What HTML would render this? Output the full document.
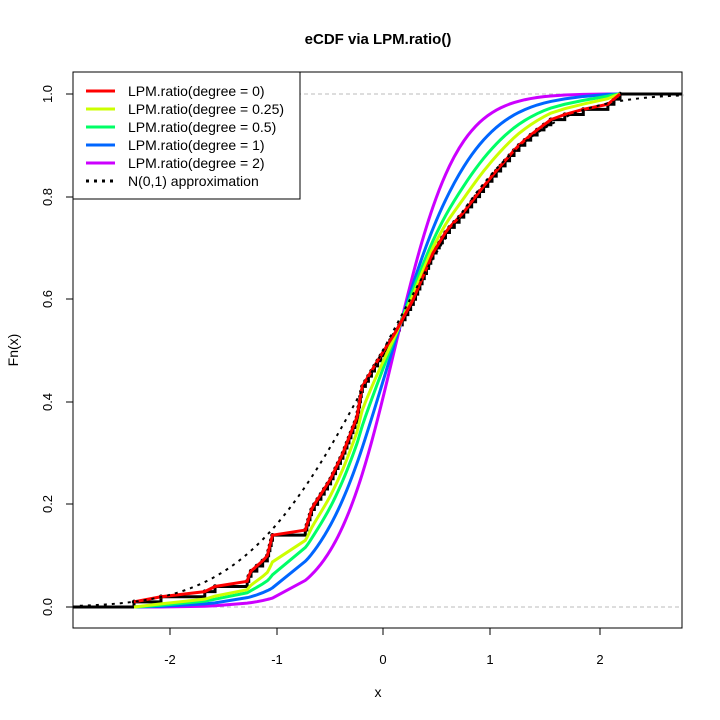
<!DOCTYPE html>
<html><head><meta charset="utf-8"><style>body{margin:0;background:#fff}svg{display:block;font-family:"Liberation Sans",Arial,sans-serif}</style></head>
<body><svg id="s" width="720" height="720" xmlns="http://www.w3.org/2000/svg">
<rect width="720" height="720" fill="#fff"/>
<text x="378" y="44" font-size="15" font-weight="bold" text-anchor="middle">eCDF via LPM.ratio()</text>
<text x="378" y="697" font-size="14" text-anchor="middle">x</text>
<text transform="translate(18,350) rotate(-90)" font-size="14" text-anchor="middle">Fn(x)</text>
<line x1="73" y1="94" x2="682" y2="94" stroke="#bbb" stroke-dasharray="4,3"/>
<line x1="73" y1="607" x2="682" y2="607" stroke="#bbb" stroke-dasharray="4,3"/>
<g id="g"></g>
<rect x="73" y="72" width="609" height="556" fill="none" stroke="#000"/>
<g stroke="#000">
<line x1="170" y1="628" x2="170" y2="635"/><line x1="277" y1="628" x2="277" y2="635"/><line x1="383" y1="628" x2="383" y2="635"/><line x1="490" y1="628" x2="490" y2="635"/><line x1="600" y1="628" x2="600" y2="635"/>
<line x1="66" y1="607" x2="73" y2="607"/><line x1="66" y1="504" x2="73" y2="504"/><line x1="66" y1="402" x2="73" y2="402"/><line x1="66" y1="299" x2="73" y2="299"/><line x1="66" y1="197" x2="73" y2="197"/><line x1="66" y1="94" x2="73" y2="94"/>
</g>
<g font-size="13" text-anchor="middle">
<text x="170" y="664">-2</text><text x="277" y="664">-1</text><text x="383" y="664">0</text><text x="490" y="664">1</text><text x="600" y="664">2</text>
<text transform="translate(52,607) rotate(-90)">0.0</text><text transform="translate(52,504) rotate(-90)">0.2</text><text transform="translate(52,402) rotate(-90)">0.4</text><text transform="translate(52,299) rotate(-90)">0.6</text><text transform="translate(52,197) rotate(-90)">0.8</text><text transform="translate(52,94) rotate(-90)">1.0</text>
</g>
<rect x="73" y="72" width="227" height="127" fill="#fff" stroke="#000"/>
<g stroke-width="3">
<line x1="86" y1="91" x2="115" y2="91" stroke="#ff0000"/>
<line x1="86" y1="109" x2="115" y2="109" stroke="#ccff00"/>
<line x1="86" y1="127" x2="115" y2="127" stroke="#00ff66"/>
<line x1="86" y1="145" x2="115" y2="145" stroke="#0066ff"/>
<line x1="86" y1="163" x2="115" y2="163" stroke="#cc00ff"/>
<line x1="86" y1="181" x2="115" y2="181" stroke="#000" stroke-dasharray="3,5"/>
</g>
<g font-size="14">
<text x="128" y="96">LPM.ratio(degree = 0)</text>
<text x="128" y="114">LPM.ratio(degree = 0.25)</text>
<text x="128" y="132">LPM.ratio(degree = 0.5)</text>
<text x="128" y="150">LPM.ratio(degree = 1)</text>
<text x="128" y="168">LPM.ratio(degree = 2)</text>
<text x="128" y="186">N(0,1) approximation</text>
</g>
</svg>
<script>
var tr=[[134,607],[134,601],[172,595],[202,593],[218,585],[247,582],[250,572],[267,557],[273,533],[305,531],[312,508],[330,480],[343,453],[357,417],[362,387],[375,365],[383,352],[395,333],[413,300],[433,253],[447,230],[463,213],[483,187],[497,170],[517,147],[533,133],[553,118],[580,110],[607,105],[620,94]];
function X(px){return (px-383)/107.5}function PX(x){return 383+x*107.5}
function PY(f){return 607-f*513}
var d=[];
for(var i=1;i<=100;i++){var py=607-i/100*513;var px=tr[tr.length-1][0];
for(var k=1;k<tr.length;k++){if(tr[k][1]<=py){var a=tr[k-1],b=tr[k];var t=(a[1]-py)/(a[1]-b[1]||1);px=a[0]+t*(b[0]-a[0]);break;}}
d.push(X(px));}
d.sort(function(a,b){return a-b});
var g=document.getElementById('g'),ns="http://www.w3.org/2000/svg";
function el(n,at){var e=document.createElementNS(ns,n);for(var k in at)e.setAttribute(k,at[k]);g.appendChild(e);return e;}
var p="M73,607 L"+PX(d[0])+",607";
for(var i=0;i<100;i++){p+=" L"+PX(d[i])+","+PY((i+1)/100);p+=" L"+(i<99?PX(d[i+1]):682)+","+PY((i+1)/100);}
el('path',{d:p,fill:'none',stroke:'#000','stroke-width':3});
for(var i=0;i<100;i++)el('circle',{cx:PX(d[i]),cy:PY((i+1)/100),r:2.2,fill:'#000'});
function lpm(deg,t){var l=0,u=0;for(var i=0;i<100;i++){if(deg==0){if(d[i]<=t)l++;else u++;}else{if(d[i]<t)l+=Math.pow(t-d[i],deg);else u+=Math.pow(d[i]-t,deg);}}return l/(l+u);}
var cols=[[2,'#cc00ff'],[1,'#0066ff'],[0.5,'#00ff66'],[0.25,'#ccff00'],[0,'#ff0000']];
cols.forEach(function(c){var q="";for(var i=0;i<100;i++)q+=(i?" L":"M")+PX(d[i])+","+PY(lpm(c[0],d[i]));el('path',{d:q,fill:'none',stroke:c[1],'stroke-width':3});});
function pn(x){var t=1/(1+0.2316419*Math.abs(x)),y=0.3989423*Math.exp(-x*x/2)*t*(0.3193815+t*(-0.3565638+t*(1.781478+t*(-1.821256+t*1.330274))));return x>0?1-y:y;}
var q="";for(var x=-2.82;x<=2.82;x+=0.02)q+=(q?" L":"M")+PX(x)+","+PY(pn(x));
el('path',{d:q,fill:'none',stroke:'#000','stroke-width':2,'stroke-dasharray':'3,5'});
</script>
</body></html>
